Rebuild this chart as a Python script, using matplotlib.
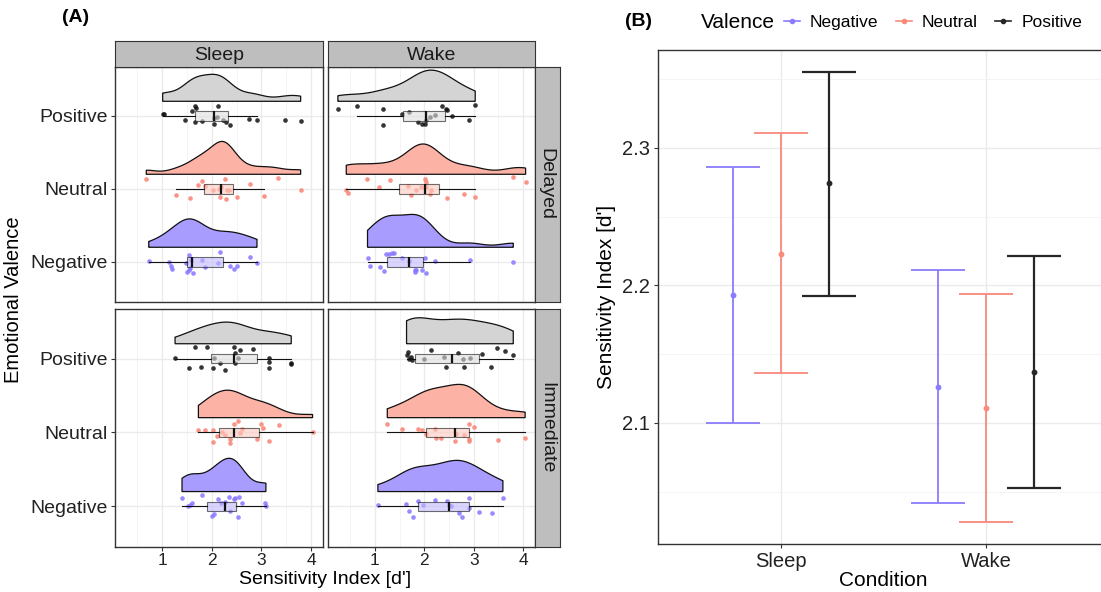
import numpy as np
import matplotlib.pyplot as plt
from matplotlib.lines import Line2D
from matplotlib.ticker import MultipleLocator

plt.rcParams['font.family'] = ['Liberation Sans', 'DejaVu Sans']

W, H = 1101, 592

# ---- panel A data: sensitivity index per subject, read from the raincloud
# x = d', jit = vertical jitter offset (category units)
valences = ['Negative', 'Neutral', 'Positive']
conditions = ['Sleep', 'Wake']
sessions = ['Delayed', 'Immediate']

sleep_delayed_pos_x = [1.01, 1.03, 1.47, 1.60, 1.67, 1.68, 1.67, 1.81, 2.04, 2.05, 2.10, 2.12, 2.22, 2.28, 2.36, 2.74, 2.91, 3.48, 3.79]
sleep_delayed_pos_jit = [0.03, 0.02, -0.05, 0.07, 0.14, 0.11, -0.09, -0.07, -0.11, -0.03, -0.02, 0.13, -0.05, -0.08, -0.13, -0.04, -0.05, -0.05, -0.07]
sleep_delayed_neu_x = [0.68, 1.28, 1.57, 1.72, 1.81, 1.87, 2.02, 2.15, 2.17, 2.19, 2.26, 2.28, 2.30, 2.34, 2.51, 2.77, 3.06, 3.33, 3.79]
sleep_delayed_neu_jit = [0.13, -0.08, -0.13, 0.06, 0.11, 0.04, -0.02, 0.00, -0.11, 0.02, 0.14, -0.14, -0.01, -0.02, -0.11, 0.07, -0.10, 0.15, -0.01]
sleep_delayed_neg_x = [0.73, 1.13, 1.17, 1.19, 1.48, 1.50, 1.54, 1.55, 1.56, 1.58, 1.63, 1.81, 1.87, 2.12, 2.17, 2.37, 2.44, 2.51, 2.77, 2.91]
sleep_delayed_neg_jit = [0.01, 0.00, -0.05, -0.10, -0.01, -0.14, -0.11, 0.09, -0.09, 0.02, -0.15, 0.02, -0.07, -0.01, 0.14, -0.05, -0.10, -0.05, 0.06, -0.02]

wake_delayed_pos_x = [0.25, 0.63, 1.17, 1.17, 1.54, 1.69, 1.87, 1.95, 2.01, 2.04, 2.11, 2.22, 2.36, 2.43, 2.46, 2.55, 2.91, 3.03]
wake_delayed_pos_jit = [0.09, 0.13, 0.09, -0.13, 0.02, 0.05, -0.09, -0.11, -0.11, -0.06, -0.02, 0.01, 0.13, 0.10, 0.08, 0.00, -0.05, 0.15]
wake_delayed_neu_x = [0.42, 0.45, 0.83, 1.09, 1.30, 1.67, 1.74, 1.83, 1.93, 2.02, 2.04, 2.04, 2.11, 2.14, 2.46, 2.80, 3.03, 3.80, 4.05]
wake_delayed_neu_jit = [-0.01, -0.06, 0.13, 0.03, 0.12, 0.04, -0.08, -0.02, 0.03, 0.13, 0.09, 0.03, -0.07, -0.01, -0.12, -0.07, -0.11, 0.16, 0.09]
wake_delayed_neg_x = [0.85, 0.90, 1.11, 1.18, 1.22, 1.28, 1.34, 1.38, 1.55, 1.69, 1.81, 1.82, 1.83, 1.95, 2.01, 2.04, 2.22, 2.92, 3.80]
wake_delayed_neg_jit = [0.05, -0.05, -0.07, -0.12, 0.11, 0.11, 0.12, 0.12, 0.05, 0.01, -0.11, -0.14, -0.11, -0.11, 0.05, -0.15, 0.01, 0.03, 0.00]

sleep_immediate_pos_x = [1.26, 1.54, 1.67, 1.79, 1.91, 2.02, 2.05, 2.17, 2.27, 2.44, 2.46, 2.47, 2.52, 2.56, 2.83, 3.15, 3.15, 3.15, 3.60, 3.60]
sleep_immediate_pos_jit = [0.01, -0.13, 0.15, -0.12, 0.15, -0.13, 0.01, -0.06, -0.15, 0.15, -0.06, 0.07, 0.01, 0.11, 0.13, 0.01, -0.05, -0.13, -0.07, -0.06]
sleep_immediate_neu_x = [1.73, 1.87, 2.02, 2.02, 2.10, 2.21, 2.27, 2.36, 2.36, 2.44, 2.52, 2.56, 2.61, 2.91, 2.99, 3.03, 3.15, 3.36, 4.03]
sleep_immediate_neu_jit = [0.03, 0.03, 0.03, -0.13, -0.05, 0.01, -0.04, -0.09, -0.14, 0.11, 0.15, -0.01, 0.05, -0.09, 0.12, 0.06, -0.11, 0.10, 0.01]
sleep_immediate_neg_x = [1.40, 1.52, 1.57, 1.60, 1.81, 2.00, 2.05, 2.12, 2.19, 2.26, 2.34, 2.36, 2.44, 2.46, 2.52, 2.54, 2.60, 3.08, 3.09]
sleep_immediate_neg_jit = [0.11, 0.00, 0.02, 0.05, 0.16, -0.13, -0.11, 0.10, 0.05, 0.06, 0.12, -0.06, 0.10, 0.11, -0.15, 0.13, 0.04, 0.05, 0.01]

wake_immediate_pos_x = [1.64, 1.67, 1.69, 1.72, 1.75, 1.99, 2.14, 2.39, 2.44, 2.69, 2.78, 2.80, 2.93, 3.17, 3.35, 3.48, 3.64, 3.80]
wake_immediate_pos_jit = [0.05, 0.09, 0.00, 0.02, -0.02, -0.01, 0.11, 0.02, -0.11, 0.07, -0.01, -0.11, 0.01, 0.06, -0.11, 0.14, 0.10, 0.05]
wake_immediate_neu_x = [1.25, 1.55, 1.87, 1.95, 2.04, 2.22, 2.24, 2.34, 2.63, 2.64, 2.80, 2.90, 2.91, 2.91, 3.01, 3.49, 4.04]
wake_immediate_neu_jit = [0.11, 0.05, 0.05, 0.03, -0.02, 0.05, -0.08, -0.08, -0.12, -0.02, -0.03, 0.11, -0.09, -0.11, 0.07, -0.10, -0.08]
wake_immediate_neg_x = [1.06, 1.62, 1.69, 1.77, 1.87, 1.98, 2.22, 2.46, 2.49, 2.54, 2.71, 2.76, 2.91, 2.91, 3.10, 3.37, 3.59]
wake_immediate_neg_jit = [0.02, 0.03, -0.06, -0.14, 0.07, 0.02, 0.09, 0.07, 0.02, 0.00, -0.09, -0.14, 0.11, -0.02, -0.07, -0.09, 0.11]

# ---- panel B data: mean and CI per condition / valence
sleep_mean = [2.193, 2.223, 2.274]
sleep_lo = [2.100, 2.136, 2.192]
sleep_hi = [2.286, 2.311, 2.355]
wake_mean = [2.126, 2.111, 2.137]
wake_lo = [2.042, 2.028, 2.053]
wake_hi = [2.211, 2.194, 2.221]

point_cols = ['#8677FF', '#F98373', '#111111']
violin_cols = ['#A89DFF', '#FDB2A6', '#D4D4D4']
box_cols = ['#C2BAFF', '#FDC8BF', '#DEDEDE']
line_cols = ['#8A7CFF', '#F98A7C', '#262626']

panels = {
    ('Delayed', 'Sleep'): [(sleep_delayed_neg_x, sleep_delayed_neg_jit), (sleep_delayed_neu_x, sleep_delayed_neu_jit), (sleep_delayed_pos_x, sleep_delayed_pos_jit)],
    ('Delayed', 'Wake'): [(wake_delayed_neg_x, wake_delayed_neg_jit), (wake_delayed_neu_x, wake_delayed_neu_jit), (wake_delayed_pos_x, wake_delayed_pos_jit)],
    ('Immediate', 'Sleep'): [(sleep_immediate_neg_x, sleep_immediate_neg_jit), (sleep_immediate_neu_x, sleep_immediate_neu_jit), (sleep_immediate_pos_x, sleep_immediate_pos_jit)],
    ('Immediate', 'Wake'): [(wake_immediate_neg_x, wake_immediate_neg_jit), (wake_immediate_neu_x, wake_immediate_neu_jit), (wake_immediate_pos_x, wake_immediate_pos_jit)],
}


def frac(x0, y0, x1, y1):
    return [x0 / W, 1 - y1 / H, (x1 - x0) / W, (y1 - y0) / H]


def kde(vals):
    v = np.asarray(vals, dtype=float)
    n = len(v)
    sd = v.std(ddof=1)
    q75, q25 = np.percentile(v, [75, 25])
    bw = 0.9 * min(sd, (q75 - q25) / 1.34) * n ** -0.2
    grid = np.linspace(v.min(), v.max(), 300)
    dens = np.exp(-0.5 * ((grid[:, None] - v[None, :]) / bw) ** 2).sum(1) / (n * bw * np.sqrt(2 * np.pi))
    return grid, dens


fig = plt.figure(figsize=(W / 100, H / 100), dpi=100)

rows = {'Delayed': (67, 302), 'Immediate': (309, 547)}
cols = {'Sleep': (115, 323), 'Wake': (328, 535)}
tick_col = '#333333'

for (sess, cond), groups in panels.items():
    y0, y1 = rows[sess]
    x0, x1 = cols[cond]
    ax = fig.add_axes(frac(x0, y0, x1, y1))
    ax.set_xlim(0.05, 4.24)
    ax.set_ylim(0.45, 3.67)
    ax.xaxis.set_major_locator(MultipleLocator(1))
    ax.xaxis.set_minor_locator(MultipleLocator(0.5))
    ax.set_yticks([1, 2, 3])
    ax.grid(True, which='major', color='#EBEBEB', lw=1.0, zorder=0)
    ax.grid(True, which='minor', axis='x', color='#F2F2F2', lw=0.6, zorder=0)
    ax.set_axisbelow(True)
    for s in ax.spines.values():
        s.set_color('#333333')
        s.set_linewidth(1.0)
    ax.tick_params(which='major', length=3, width=0.8, color=tick_col, labelsize=14, labelcolor='#222222', pad=2)
    ax.tick_params(axis='x', labelsize=12.5, pad=1.5)
    ax.tick_params(which='minor', length=0)

    dens_all = [kde(g[0]) for g in groups]
    dmax = max(d.max() for _, d in dens_all)
    for i, (xs, jit) in enumerate(groups):
        cat = i + 1
        grid, dens = dens_all[i]
        base = cat + 0.2
        h = dens / dmax * 0.45
        px = np.concatenate([grid, grid[::-1]])
        py = np.concatenate([base + h, np.full(len(grid), base)])
        ax.fill(px, py, facecolor=violin_cols[i], edgecolor='#111111', lw=0.9, zorder=2)
        ax.scatter(xs, cat + np.asarray(jit), s=11, color=point_cols[i], alpha=0.85, lw=0, zorder=3)
        ax.boxplot([xs], positions=[cat], widths=0.13, orientation='horizontal', whis=1.5,
                   showfliers=False, patch_artist=True, manage_ticks=False,
                   boxprops=dict(facecolor=box_cols[i], alpha=0.6, edgecolor='#111111', lw=0.8),
                   medianprops=dict(color='#111111', lw=1.6),
                   whiskerprops=dict(color='#111111', lw=0.8),
                   capprops=dict(lw=0), zorder=4)

    if cond == 'Sleep':
        ax.set_yticklabels(['Negative', 'Neutral', 'Positive'])
    else:
        ax.tick_params(axis='y', left=False, labelleft=False)
    if sess == 'Immediate':
        ax.set_xticks([1, 2, 3, 4])
    else:
        ax.tick_params(axis='x', bottom=False, labelbottom=False)

# strips
for cond, (x0, x1) in cols.items():
    sa = fig.add_axes(frac(x0, 41, x1, 67))
    sa.set_facecolor('#BEBEBE')
    sa.set_xticks([])
    sa.set_yticks([])
    for s in sa.spines.values():
        s.set_color('#333333')
    sa.text(0.5, 0.45, cond, ha='center', va='center', fontsize=14, color='#1A1A1A', transform=sa.transAxes)
for sess, (y0, y1) in rows.items():
    sa = fig.add_axes(frac(535, y0, 560, y1))
    sa.set_facecolor('#BEBEBE')
    sa.set_xticks([])
    sa.set_yticks([])
    for s in sa.spines.values():
        s.set_color('#333333')
    sa.text(0.45, 0.5, sess, ha='center', va='center', rotation=-90, fontsize=14, color='#1A1A1A', transform=sa.transAxes)

fig.text(325 / W, 1 - 580 / H, "Sensitivity Index [d']", ha='center', va='center', fontsize=14)
fig.text(14 / W, 1 - 300 / H, 'Emotional Valence', ha='center', va='center', rotation=90, fontsize=14.5)
fig.text(62 / W, 1 - 18 / H, '(A)', ha='left', va='center', fontsize=14, fontweight='bold')

# ---- panel B
axb = fig.add_axes(frac(658, 50, 1109, 544))
axb.set_xlim(0.4, 2.6)
axb.set_ylim(2.012, 2.371)
axb.set_xticks([1, 2])
axb.set_xticklabels(conditions)
axb.set_yticks([2.1, 2.2, 2.3])
axb.yaxis.set_minor_locator(MultipleLocator(0.05))
axb.grid(True, which='major', color='#EBEBEB', lw=1.0)
axb.grid(True, which='minor', axis='y', color='#F3F3F3', lw=0.6)
axb.set_axisbelow(True)
for s in axb.spines.values():
    s.set_color('#333333')
    s.set_linewidth(1.0)
axb.tick_params(which='major', length=3, width=0.8, color=tick_col, labelsize=14.5, labelcolor='#222222', pad=3)
axb.tick_params(which='minor', length=0)

offsets = [-0.233, 0.0, 0.233]
for i in range(3):
    xs = np.array([1, 2]) + offsets[i]
    means = np.array([sleep_mean[i], wake_mean[i]])
    lo = np.array([sleep_lo[i], wake_lo[i]])
    hi = np.array([sleep_hi[i], wake_hi[i]])
    lw = 1.6 if i == 2 else 1.3
    axb.errorbar(xs, means, yerr=[means - lo, hi - means], fmt='o', ms=3.2, color=line_cols[i],
                 ecolor=line_cols[i], elinewidth=lw, capsize=19.5, capthick=lw, zorder=3)

axb.set_xlabel('Condition', fontsize=15, labelpad=0)
axb.set_ylabel("Sensitivity Index [d']", fontsize=15, labelpad=4)
fig.text(625 / W, 1 - 22 / H, '(B)', ha='left', va='center', fontsize=14, fontweight='bold')

fig.text(701 / W, 1 - 23 / H, 'Valence', ha='left', va='center', fontsize=15)
handles = [Line2D([0], [0], color=line_cols[i], lw=1.2, marker='o', ms=3) for i in range(3)]
fig.legend(handles, valences, loc='center left', bbox_to_anchor=(784 / W, 1 - 22 / H), ncol=3,
           frameon=False, fontsize=12.5, handlelength=0.9, handletextpad=0.6, columnspacing=1.0,
           borderaxespad=0, borderpad=0)

fig.savefig('out.png', dpi=100)
